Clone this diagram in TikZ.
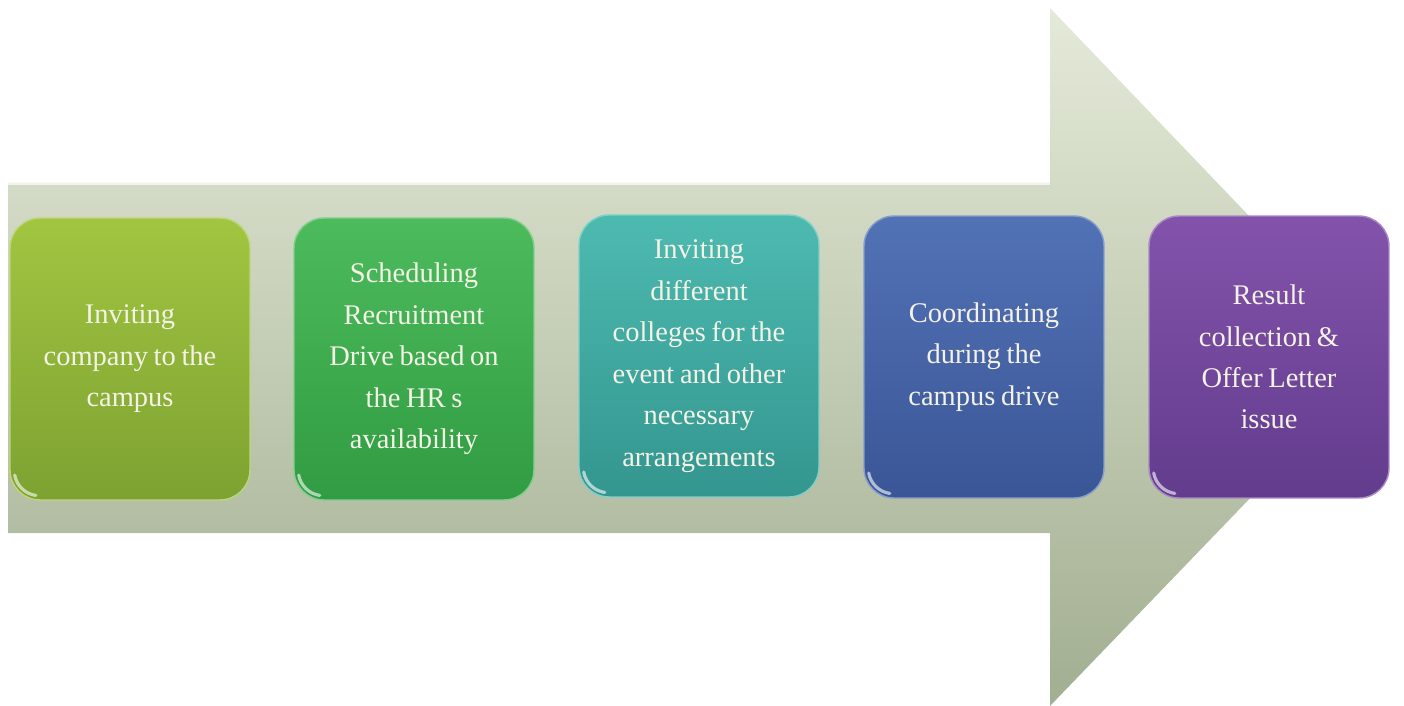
\documentclass[tikz,border=0pt]{standalone}
\usepackage{fontspec}
\setmainfont{Liberation Serif}
\definecolor{shafttop}{HTML}{E4EAD8}
\definecolor{shaftbot}{HTML}{A2AE91}
\definecolor{txt}{HTML}{F4F2E6}
\definecolor{limeA}{HTML}{A2C541}\definecolor{limeB}{HTML}{7DA231}
\definecolor{grnA}{HTML}{4CBB5C}\definecolor{grnB}{HTML}{319C43}
\definecolor{tealA}{HTML}{4DBAB0}\definecolor{tealB}{HTML}{33968F}
\definecolor{bluA}{HTML}{5272B6}\definecolor{bluB}{HTML}{3A5696}
\definecolor{purA}{HTML}{8353AB}\definecolor{purB}{HTML}{623C8D}
\newcommand\stagefont{\fontsize{16.2}{23.6}\selectfont}
\tikzset{
  stage/.style={rounded corners=0.6cm, minimum width=4.8cm, minimum height=5.64cm,
    text width=4.5cm, align=center, text=txt, line width=0.8pt, font=\stagefont,
    execute at begin node={\spaceskip=0.2em\relax}},
  gloss/.style={white, opacity=0.6, line width=1.8pt, line cap=round}
}
\begin{document}
\begin{tikzpicture}[x=0.02cm,y=-0.02cm]
        \useasboundingbox (0,0) rectangle (1404,706) ;
        % big arrow behind the stages
        \shade[top color=shafttop,bottom color=shaftbot]
        (8,183)--(1050,183)--(1050,8)--(1385,358)--(1050,706)--(1050,533)--(8,533)--cycle ;
        \draw[white,opacity=0.7,line width=1pt] (8,184)--(1050,184) ;
        % stages
        \node[stage,top color=limeA,bottom color=limeB,draw=limeA!70!white] (s1) at (130,359)
        {Inviting\\company to the\\campus} ;
        \node[stage,top color=grnA,bottom color=grnB,draw=grnA!70!white] (s2) at (414,359)
        {Scheduling\\Recruitment\\Drive based on\\the HR s\\availability} ;
        \node[stage,top color=tealA,bottom color=tealB,draw=tealA!70!white] (s3) at (699,356)
        {Inviting\\different\\colleges for the\\event and other\\necessary\\arrangements} ;
        \node[stage,top color=bluA,bottom color=bluB,draw=bluA!70!white] (s4) at (984,357)
        {Coordinating\\during the\\campus drive} ;
        \node[stage,top color=purA,bottom color=purB,draw=purA!70!white] (s5) at (1269,357)
        {Result\\collection \&\\Offer Letter\\issue} ;
        \foreach \n in {s1,s2,s3,s4,s5}
          \draw[gloss] ([shift={(0.6cm,0.6cm)}]\n.south west) ++(190:0.5cm)
          arc[start angle=190,end angle=262,radius=0.5cm] ;
\end{tikzpicture}
\end{document}
